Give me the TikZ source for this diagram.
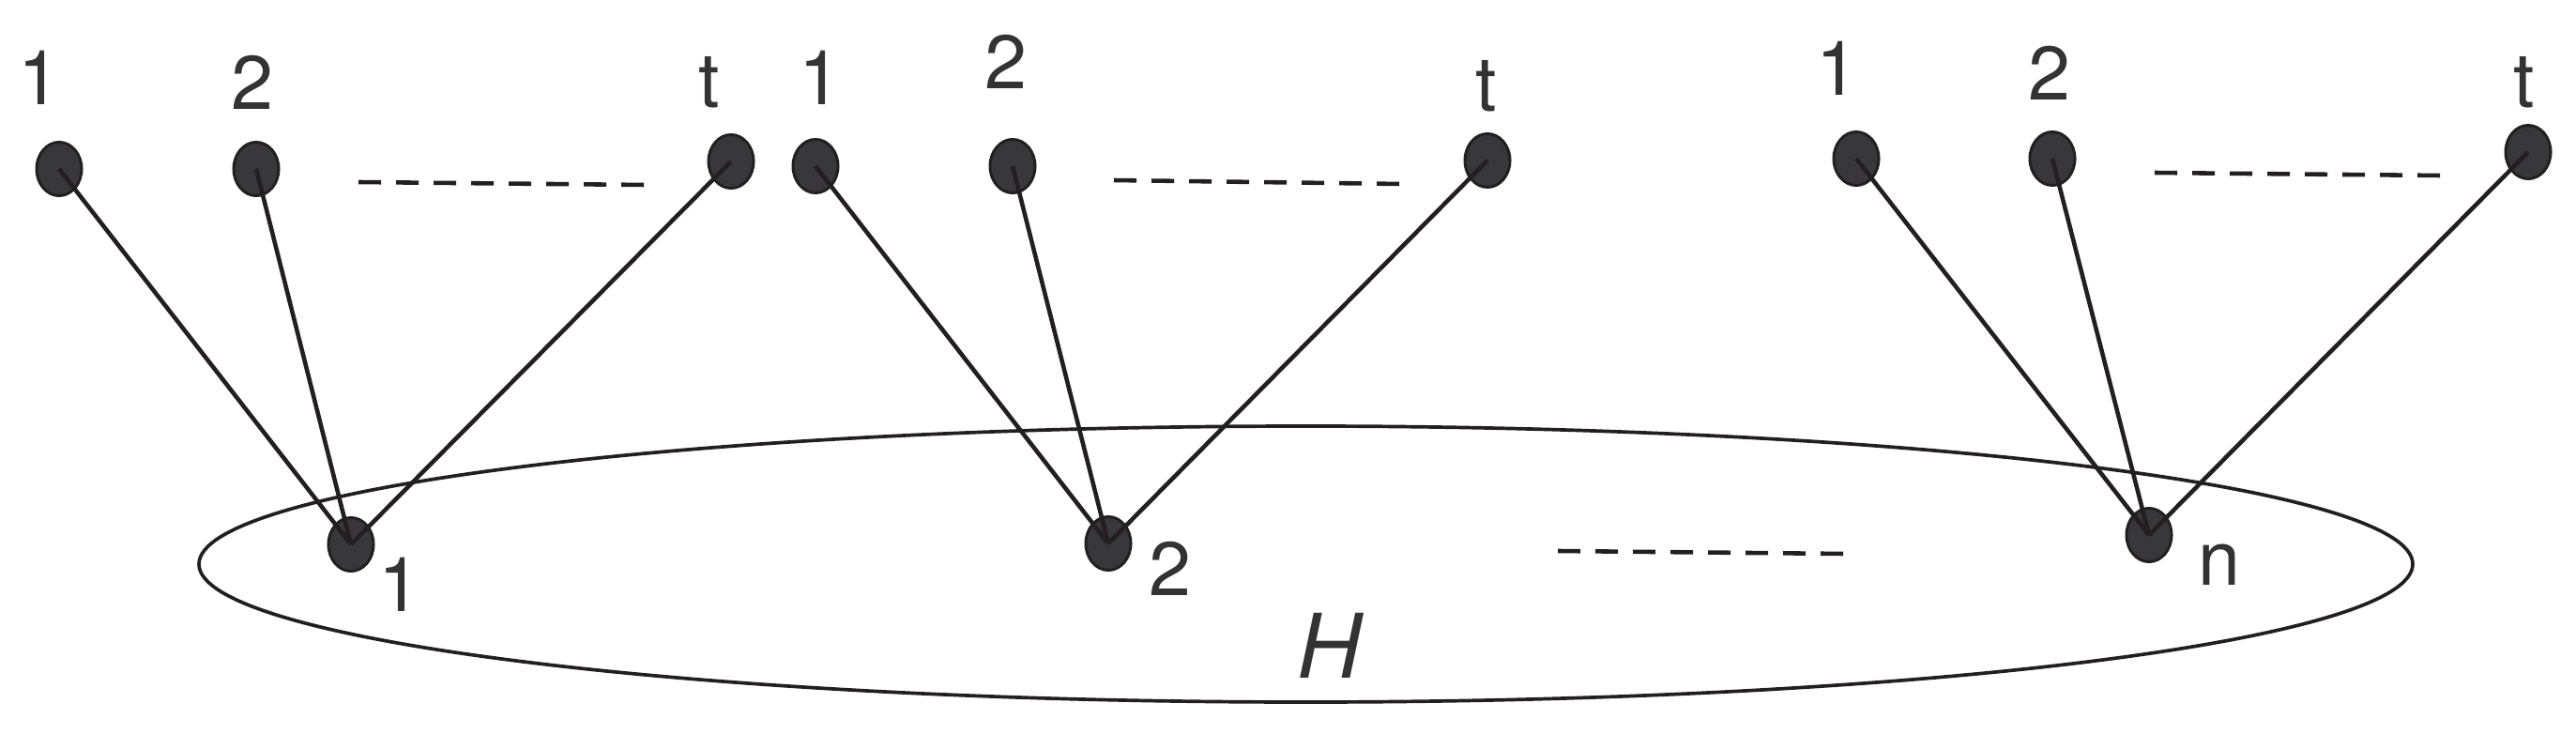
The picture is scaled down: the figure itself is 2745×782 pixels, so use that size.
\documentclass[tikz,border=0pt]{standalone}
\usepackage{fontspec}
\setmainfont{TeX Gyre Heros}
\usetikzlibrary{shapes.geometric}
\definecolor{inkc}{HTML}{231F20}
\definecolor{vfill}{HTML}{38373A}
\definecolor{txtc}{HTML}{333333}
\tikzset{
  vtx/.style={ellipse, draw=inkc, fill=vfill, line width=0.85pt, inner sep=0pt,
              minimum width=0.48cm, minimum height=0.57cm},
  lbl/.style={anchor=base, text=txtc, inner sep=0pt, font=\fontsize{23pt}{23pt}\selectfont},
  hlbl/.style={anchor=base, text=txtc, inner sep=0pt, font=\fontsize{27pt}{27pt}\selectfont\itshape},
  edge/.style={draw=inkc, line width=1.3pt},
  dots/.style={draw=inkc, line width=1.3pt, dash pattern=on 0.24cm off 0.16cm},
  ring/.style={draw=inkc, line width=1.05pt}
}
\begin{document}
\begin{tikzpicture}[x=0.01cm, y=-0.01cm]
\useasboundingbox (0,0) rectangle (2745,782);
% H ellipse
\draw[ring] (1391.5,601) ellipse [x radius=1179.5, y radius=147];
% bottom vertices
\node[vtx] (b1) at (374,580) {};
\node[vtx] (b2) at (1181,579) {};
\node[vtx] (bn) at (2290,570) {};
% top vertices
\node[vtx] (a1) at (63,180) {};
\node[vtx] (a2) at (273,180) {};
\node[vtx] (at) at (779,172) {};
\node[vtx] (c1) at (869,177) {};
\node[vtx] (c2) at (1079,177) {};
\node[vtx] (ct) at (1585,171) {};
\node[vtx] (d1) at (1978,169) {};
\node[vtx] (d2) at (2187,169) {};
\node[vtx] (dt) at (2694,162) {};
% edges
\foreach \s in {a1,a2,at} \draw[edge] (\s.center) -- (b1.center);
\foreach \s in {c1,c2,ct} \draw[edge] (\s.center) -- (b2.center);
\foreach \s in {d1,d2,dt} \draw[edge] (\s.center) -- (bn.center);
% dashed separators
\coordinate (p1) at (382,194); \coordinate (q1) at (688,197);
\coordinate (p2) at (1187,192); \coordinate (q2) at (1493,196);
\coordinate (p3) at (2296,184); \coordinate (q3) at (2601,187);
\coordinate (p4) at (1660,587); \coordinate (q4) at (1966,590);
\draw[dots] (p1) -- (q1);
\draw[dots] (p2) -- (q2);
\draw[dots] (p3) -- (q3);
\draw[dots] (p4) -- (q4);
% labels
\node[lbl] (la1) at (42,112) {1};
\node[lbl] (la2) at (269,117) {2};
\node[lbl] (lat) at (756,115) {t};
\node[lbl] (lc1) at (874,112) {1};
\node[lbl] (lc2) at (1072,95) {2};
\node[lbl] (lct) at (1584,119) {t};
\node[lbl] (ld1) at (1958,102) {1};
\node[lbl] (ld2) at (2184,107) {2};
\node[lbl] (ldt) at (2690,115) {t};
\node[lbl] (lb1) at (426,651) {1};
\node[lbl] (lb2) at (1247,634) {2};
\node[lbl] (lbn) at (2365,623) {n};
\node[hlbl] (lH) at (1417,722) {H};
\end{tikzpicture}
\end{document}
